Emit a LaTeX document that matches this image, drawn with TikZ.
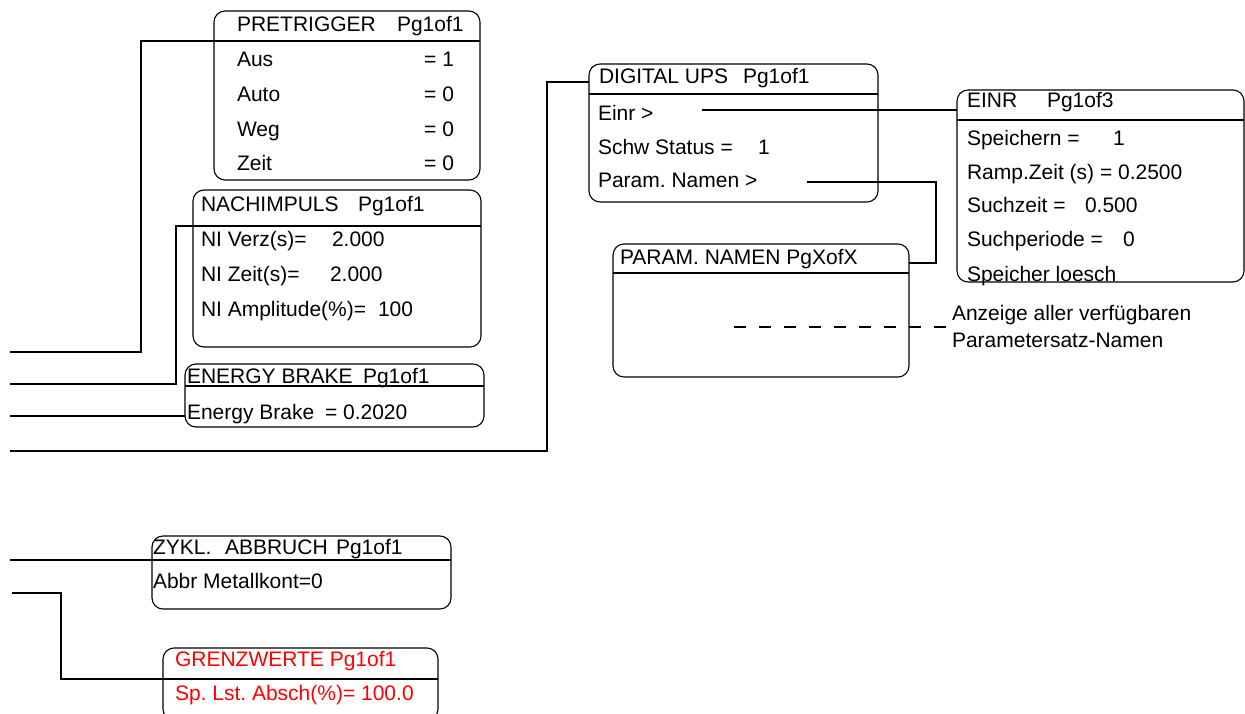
\documentclass[tikz,border=0pt]{standalone}
\usepackage{fontspec}
\setmainfont{Liberation Sans}
\frenchspacing
\definecolor{pured}{RGB}{255,0,0}
\newcommand\fs{\fontsize{21}{25}\selectfont}
\tikzset{
  boxst/.style={draw, line width=1.1pt, rounded corners=11pt, inner sep=0pt, outer sep=0pt},
  hdrline/.style={line width=2pt},
  conn/.style={line width=2pt},
  txt/.style={anchor=base west, inner sep=0pt, outer sep=0pt, font=\fs},
  txr/.style={anchor=base east, inner sep=0pt, outer sep=0pt, font=\fs},
}
\newcommand\mkbox[6]{%
  \node[boxst, anchor=north west, minimum width={(#4-#2)*1pt}, minimum height={(#5-#3)*1pt}] (#1) at (#2,#3) {};
  \coordinate (#1-hl) at (#2,#6);
  \coordinate (#1-hr) at (#4,#6);
  \draw[hdrline] (#1-hl) -- (#1-hr);}
\newcommand\tx[4]{\node[txt] (#1) at (#2,#3) {#4};}
\newcommand\txe[4]{\node[txr] (#1) at (#2,#3) {#4};}
\begin{document}
\begin{tikzpicture}[x=1pt,y=-1pt]
\fill[white] (0,0) rectangle (1245,714);
\useasboundingbox (0,0) rectangle (1245,714);

% boxes
\mkbox{pre}{214}{11}{480}{180}{41}
\mkbox{nach}{193}{190}{481}{347}{225.7}
\mkbox{eb}{185}{364}{484}{427}{385.7}
\mkbox{dig}{589}{64}{878}{202}{94}
\mkbox{einr}{957}{90}{1244}{282}{120}
\mkbox{par}{613}{244}{909}{377}{273}
\mkbox{zyk}{152}{536}{451}{609}{560}
\mkbox{gre}{163}{648}{438}{720}{679}

% PRETRIGGER texts
\tx{preh}{237}{32}{PRETRIGGER}
\tx{prep}{397}{32}{Pg1of1}
\tx{pa}{237}{67}{Aus}   \txe{pav}{454}{67}{= 1}
\tx{pb}{237}{102}{Auto} \txe{pbv}{454}{102}{= 0}
\tx{pc}{237}{137}{Weg}  \txe{pcv}{454}{137}{= 0}
\tx{pd}{237}{171}{Zeit} \txe{pdv}{454}{171}{= 0}

% NACHIMPULS
\tx{nh}{201}{212}{NACHIMPULS}
\tx{np}{358}{212}{Pg1of1}
\tx{na}{201}{247}{NI Verz(s)=}      \tx{nav}{332}{247}{2.000}
\tx{nb}{201}{281}{NI Zeit(s)=}      \tx{nbv}{330}{281}{2.000}
\tx{nc}{201}{316}{NI Amplitude(\%)=} \tx{ncv}{378}{316}{100}

% ENERGY BRAKE
\tx{ebh}{187}{383}{ENERGY BRAKE}
\tx{ebp}{363}{383}{Pg1of1}
\tx{eba}{187}{419}{Energy Brake}
\tx{ebv}{325}{419}{= 0.2020}

% DIGITAL UPS
\tx{dh}{599}{84}{DIGITAL UPS}
\tx{dp}{743}{84}{Pg1of1}
\tx{da}{598}{121}{Einr >}
\tx{db}{598}{155}{Schw Status =}  \tx{dbv}{758}{155}{1}
\tx{dc}{598}{188}{Param. Namen >}

% EINR
\tx{eh}{967}{108}{EINR}
\tx{ep}{1047}{108}{Pg1of3}
\tx{ea}{967}{146}{Speichern =}   \tx{eav}{1113}{146}{1}
\tx{eb2}{967}{180}{Ramp.Zeit (s) = 0.2500}
\tx{ec}{967}{213}{Suchzeit =}    \tx{ecv}{1085}{213}{0.500}
\tx{ed}{967}{247}{Suchperiode =} \tx{edv}{1123}{247}{0}
\tx{ee}{967}{281}{Speicher loesch}

% PARAM. NAMEN
\tx{ph}{620}{264}{PARAM. NAMEN PgXofX}
\tx{an1}{952}{320}{Anzeige aller verfügbaren}
\tx{an2}{952}{347}{Parametersatz-Namen}

% ZYKL
\tx{zh}{153}{554}{ZYKL.}
\tx{zh2}{225}{554}{ABBRUCH}
\tx{zp}{336}{554}{Pg1of1}
\tx{za}{153}{588}{Abbr Metallkont=0}

% GRENZWERTE
\node[txt, text=pured] (gh) at (175,666) {GRENZWERTE Pg1of1};
\node[txt, text=pured] (ga) at (175,700) {Sp. Lst. Absch(\%)= 100.0};

% connector coordinates
\coordinate (c1a) at (141,41);  \coordinate (c1b) at (141,352); \coordinate (c1c) at (10,352);
\coordinate (c2a) at (176,225.7); \coordinate (c2b) at (176,384); \coordinate (c2c) at (10,384);
\coordinate (c3a) at (185,416); \coordinate (c3b) at (10,416);
\coordinate (c4a) at (589,82);  \coordinate (c4b) at (547,82);  \coordinate (c4c) at (547,451); \coordinate (c4d) at (10,451);
\coordinate (c5a) at (10,560);
\coordinate (c6a) at (12,593);  \coordinate (c6b) at (61,593);  \coordinate (c6c) at (61,679);
\coordinate (c7a) at (702,110); \coordinate (c7b) at (957,110);
\coordinate (c8a) at (807,182); \coordinate (c8b) at (936,182); \coordinate (c8c) at (936,263); \coordinate (c8d) at (909,263);
\coordinate (c9a) at (734,327); \coordinate (c9b) at (947,327);

% connectors
\draw[conn] (pre-hl) -- (c1a) -- (c1b) -- (c1c);
\draw[conn] (nach-hl) -- (c2a) -- (c2b) -- (c2c);
\draw[conn] (c3a) -- (c3b);
\draw[conn] (c4a) -- (c4b) -- (c4c) -- (c4d);
\draw[conn] (c5a) -- (zyk-hl);
\draw[conn] (c6a) -- (c6b) -- (c6c) -- (gre-hl);
\draw[conn] (c7a) -- (c7b);
\draw[conn] (c8a) -- (c8b) -- (c8c) -- (c8d);
\draw[conn, dash pattern=on 12pt off 13pt] (c9a) -- (c9b);
\end{tikzpicture}
\end{document}
